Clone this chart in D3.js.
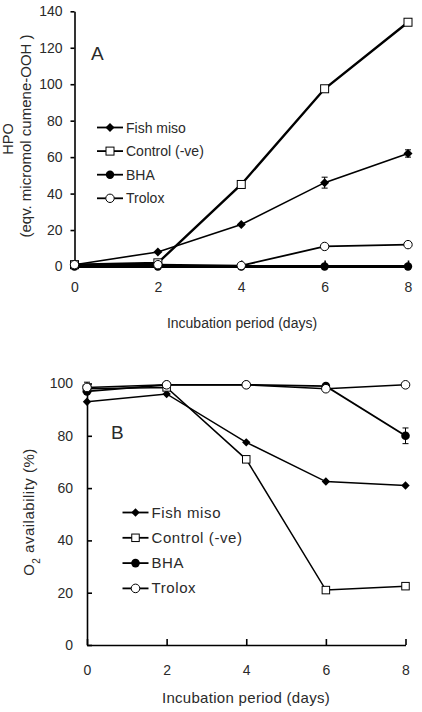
<!DOCTYPE html>
<html>
<head>
<meta charset="utf-8">
<script src="https://cdn.jsdelivr.net/npm/d3@7"></script>
<style>
  body { margin: 0; background: #fff; }
  svg text { font-family: Arial, "Liberation Sans", sans-serif; fill: #2a2a2a; }
</style>
</head>
<body>
<div id="chart"></div>
<script>
// incubation days (shared by both panels)
let days = [0, 2, 4, 6, 8];
let seriesNames = ["Fish miso", "Control (-ve)", "BHA", "Trolox"];

// panel A - HPO
let hpoFishMiso = [1, 8, 23, 46, 62];
let hpoFishMisoErr = [0, 0, 0, 3, 2];
let hpoControl = [1, 2, 45, 97.5, 134];
let hpoBHA = [0, 0, 0, 0, 0];
let hpoTrolox = [1, 1, 0.5, 11, 12];
let hpoTicks = [0, 20, 40, 60, 80, 100, 120, 140];

// panel B - O2 availability
let o2FishMiso = [93, 96, 77.5, 62.5, 61];
let o2Control = [98, 98.5, 71, 21, 22.5];
let o2BHA = [97, 99.5, 99.5, 99, 80];
let o2BHAErr = [0, 0, 0, 0, 3];
let o2Trolox = [98.5, 99.5, 99.5, 98, 99.5];
let o2TroloxErr = [2, 0, 0, 0, 0];
let o2Ticks = [0, 20, 40, 60, 80, 100];

let width = 422, height = 712;

let svg = d3.select("#chart").append("svg")
    .attr("width", width)
    .attr("height", height);

// marker drawing: type = diamond | square | dot | circle
function marker(g, type, x, y, s) {
    if (type == "diamond") {
        let r = s.diamond;
        g.append("path")
            .attr("d", `M${x},${y - r}L${x + r},${y}L${x},${y + r}L${x - r},${y}Z`)
            .attr("fill", "#000");
    } else if (type == "square") {
        g.append("rect")
            .attr("x", x - s.square / 2).attr("y", y - s.square / 2)
            .attr("width", s.square).attr("height", s.square)
            .attr("fill", "#fff").attr("stroke", "#000").attr("stroke-width", 1);
    } else if (type == "dot") {
        g.append("circle").attr("cx", x).attr("cy", y).attr("r", s.circle)
            .attr("fill", "#000");
    } else {
        g.append("circle").attr("cx", x).attr("cy", y).attr("r", s.circle)
            .attr("fill", "#fff").attr("stroke", "#000").attr("stroke-width", 1);
    }
}

function drawPanel(p) {
    let g = svg.append("g");
    let x = d3.scaleLinear().domain([0, 8]).range(p.xRange);
    let y = d3.scaleLinear().domain(p.yDomain).range(p.yRange);

    let xAxis = g.append("g")
        .attr("transform", `translate(0,${p.yRange[0]})`)
        .call(d3.axisBottom(x).tickValues(days).tickSizeInner(-6).tickSizeOuter(0).tickPadding(p.xPad));
    let yAxis = g.append("g")
        .attr("transform", `translate(${p.xRange[0]},0)`)
        .call(d3.axisLeft(y).tickValues(p.yTicks).tickSizeInner(p.yTick).tickSizeOuter(0).tickPadding(p.yPad));
    [xAxis, yAxis].forEach(a => {
        a.selectAll("path, line").attr("stroke", "#000").attr("stroke-width", 1.6);
        a.selectAll("text").style("font-size", p.tickFont + "px").attr("fill", "#2a2a2a");
    });

    let line = d3.line().x((d, i) => x(days[i])).y(d => y(d));

    // series lines first, then markers on top
    p.series.forEach(s => {
        g.append("path")
            .datum(s.values)
            .attr("d", line)
            .attr("fill", "none")
            .attr("stroke", "#000")
            .attr("stroke-width", s.lw);
    });
    p.series.forEach(s => {
        if (s.err) {
            s.err.forEach((e, i) => {
                if (!e) return;
                let cx = x(days[i]);
                g.append("path")
                    .attr("d", `M${cx},${y(s.values[i] - e)}V${y(s.values[i] + e)}` +
                        `M${cx - 3},${y(s.values[i] - e)}h6M${cx - 3},${y(s.values[i] + e)}h6`)
                    .attr("stroke", "#000").attr("stroke-width", 1).attr("fill", "none");
            });
        }
        s.values.forEach((v, i) => marker(g, s.type, x(days[i]), y(v), p.size));
    });

    // legend, in seriesNames order
    seriesNames.forEach((name, i) => {
        let s = p.series.find(d => d.name == name);
        let ly = p.legendY + i * p.legendGap;
        g.append("line")
            .attr("x1", p.legendX).attr("x2", p.legendX + 26)
            .attr("y1", ly).attr("y2", ly)
            .attr("stroke", "#000").attr("stroke-width", 1.8);
        marker(g, s.type, p.legendX + 13, ly, p.size);
        g.append("text")
            .attr("x", p.legendX + 29).attr("y", ly + 5)
            .style("font-size", p.legendFont + "px")
            .style("letter-spacing", p.spacing + "px")
            .text(name);
    });

    // panel letter
    g.append("text")
        .attr("x", p.letterX).attr("y", p.letterY)
        .style("font-size", "19px")
        .text(p.letter);

    // x title
    g.append("text")
        .attr("x", p.titleX).attr("y", p.titleY)
        .attr("text-anchor", "middle")
        .style("font-size", p.legendFont + "px")
        .style("letter-spacing", p.spacing / 2 + "px")
        .text("Incubation period (days)");
    return g;
}

drawPanel({
    xRange: [74.5, 408], yDomain: [0, 140], yRange: [266.5, 11.3],
    yTicks: hpoTicks, yTick: 4, yPad: 8, xPad: 16, tickFont: 14,
    size: {diamond: 4.5, square: 8, circle: 4.2},
    series: [
        {name: "BHA", type: "dot", values: hpoBHA, lw: 3.2},
        {name: "Fish miso", type: "diamond", values: hpoFishMiso, lw: 1.6, err: hpoFishMisoErr},
        {name: "Control (-ve)", type: "square", values: hpoControl, lw: 2.4},
        {name: "Trolox", type: "circle", values: hpoTrolox, lw: 1.8}
    ],
    legendX: 97, legendY: 127.5, legendGap: 23.6, legendFont: 14, spacing: 0,
    letter: "A", letterX: 91, letterY: 60,
    titleX: 242, titleY: 328
});

drawPanel({
    xRange: [87, 405.5], yDomain: [0, 100], yRange: [645, 383.5],
    yTicks: o2Ticks, yTick: -5, yPad: 14, xPad: 20, tickFont: 14,
    size: {diamond: 4.2, square: 7.5, circle: 4.3},
    series: [
        {name: "Fish miso", type: "diamond", values: o2FishMiso, lw: 1.5},
        {name: "Control (-ve)", type: "square", values: o2Control, lw: 1.5},
        {name: "BHA", type: "dot", values: o2BHA, lw: 1.8, err: o2BHAErr},
        {name: "Trolox", type: "circle", values: o2Trolox, lw: 1.5, err: o2TroloxErr}
    ],
    legendX: 122.5, legendY: 512.5, legendGap: 25.3, legendFont: 15, spacing: 0.6,
    letter: "B", letterX: 111, letterY: 439,
    titleX: 246, titleY: 703
});

// y titles
svg.append("text")
    .attr("transform", "translate(13,139) rotate(-90)")
    .attr("text-anchor", "middle")
    .style("font-size", "14.5px")
    .text("HPO");
svg.append("text")
    .attr("transform", "translate(31,136) rotate(-90)")
    .attr("text-anchor", "middle")
    .style("font-size", "15px")
    .text("(eqv. micromol cumene-OOH )");

let o2Title = svg.append("text")
    .attr("transform", "translate(33.5,512) rotate(-90)")
    .attr("text-anchor", "middle")
    .style("font-size", "15px")
    .style("letter-spacing", "0.5px");
o2Title.append("tspan").text("O");
o2Title.append("tspan").attr("baseline-shift", "sub").style("font-size", "10px").text("2");
o2Title.append("tspan").text(" availability (%)");
</script>
</body>
</html>
